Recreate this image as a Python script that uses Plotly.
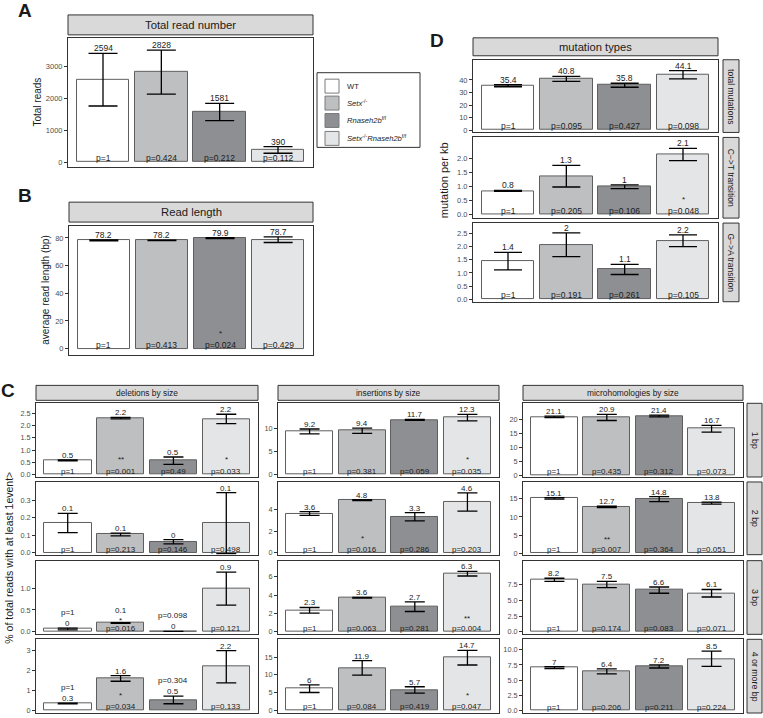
import plotly.graph_objects as go

W, H = 763, 718

# ---------------- data ----------------
groups = ["WT", "Setx-/-", "Rnaseh2b f/f", "Setx-/- Rnaseh2b f/f"]
legend_labels = ["WT", "<i>Setx</i><sup>-/-</sup>", "<i>Rnaseh2b</i><sup>f/f</sup>",
                 "<i>Setx</i><sup>-/-</sup><i>Rnaseh2b</i><sup>f/f</sup>"]
bar_colors = ["#FFFFFF", "#BEBFC1", "#8E8F92", "#E4E5E6"]

# A: total read number
total_reads = [2594, 2828, 1581, 390]
total_reads_err = [826, 690, 270, 105]
total_reads_lab = ["2594", "2828", "1581", "390"]
total_reads_p = ["p=1", "p=0.424", "p=0.212", "p=0.112"]

# B: read length
read_len = [78.2, 78.2, 79.9, 78.7]
read_len_err = [0.3, 0.2, 0.3, 2.0]
read_len_lab = ["78.2", "78.2", "79.9", "78.7"]
read_len_p = ["p=1", "p=0.413", "p=0.024", "p=0.429"]
read_len_sig = ["", "", "*", ""]

# D: mutation types
mut_total = [35.4, 40.8, 35.8, 44.1]
mut_total_err = [0.8, 2.0, 1.6, 3.3]
mut_total_lab = ["35.4", "40.8", "35.8", "44.1"]
mut_total_p = ["p=1", "p=0.095", "p=0.427", "p=0.098"]

mut_ct = [0.85, 1.38, 1.0, 2.16]
mut_ct_err = [0.02, 0.39, 0.07, 0.22]
mut_ct_lab = ["0.8", "1.3", "1", "2.1"]
mut_ct_p = ["p=1", "p=0.205", "p=0.106", "p=0.048"]
mut_ct_sig = ["", "", "", "*"]

mut_ga = [1.44, 2.06, 1.13, 2.21]
mut_ga_err = [0.33, 0.45, 0.19, 0.22]
mut_ga_lab = ["1.4", "2", "1.1", "2.2"]
mut_ga_p = ["p=1", "p=0.191", "p=0.261", "p=0.105"]

# C: deletions by size
del_1bp = [0.58, 2.30, 0.57, 2.27]
del_1bp_err = [0.02, 0.03, 0.15, 0.19]
del_1bp_lab = ["0.5", "2.2", "0.5", "2.2"]
del_1bp_p = ["p=1", "p=0.001", "p=0.49", "p=0.033"]
del_1bp_sig = ["", "**", "", "*"]

del_2bp = [0.171, 0.105, 0.063, 0.17]
del_2bp_err = [0.055, 0.008, 0.012, 0.175]
del_2bp_lab = ["0.1", "0.1", "0", "0.1"]
del_2bp_p = ["p=1", "p=0.213", "p=0.146", "p=0.498"]

del_3bp = [0.06, 0.2, 0.004, 0.99]
del_3bp_err = [0.02, 0.01, 0.0, 0.38]
del_3bp_lab = ["0", "0.1", "0", "0.9"]
del_3bp_p = ["p=1", "p=0.016", "p=0.098", "p=0.121"]
del_3bp_sig = ["", "*", "", ""]

del_4bp = [0.34, 1.6, 0.52, 2.19]
del_4bp_err = [0.02, 0.14, 0.19, 0.81]
del_4bp_lab = ["0.3", "1.6", "0.5", "2.2"]
del_4bp_p = ["p=1", "p=0.034", "p=0.304", "p=0.133"]
del_4bp_sig = ["", "*", "", ""]

# C: insertions by size
ins_1bp = [9.3, 9.45, 11.8, 12.3]
ins_1bp_err = [0.53, 0.55, 0.1, 0.7]
ins_1bp_lab = ["9.2", "9.4", "11.7", "12.3"]
ins_1bp_p = ["p=1", "p=0.381", "p=0.059", "p=0.035"]
ins_1bp_sig = ["", "", "", "*"]

ins_2bp = [3.63, 4.87, 3.33, 4.7]
ins_2bp_err = [0.17, 0.05, 0.38, 0.85]
ins_2bp_lab = ["3.6", "4.8", "3.3", "4.6"]
ins_2bp_p = ["p=1", "p=0.016", "p=0.286", "p=0.203"]
ins_2bp_sig = ["", "*", "", ""]

ins_3bp = [2.34, 3.72, 2.74, 6.35]
ins_3bp_err = [0.31, 0.03, 0.53, 0.25]
ins_3bp_lab = ["2.3", "3.6", "2.7", "6.3"]
ins_3bp_p = ["p=1", "p=0.063", "p=0.281", "p=0.004"]
ins_3bp_sig = ["", "", "", "**"]

ins_4bp = [6.1, 12.0, 5.76, 14.85]
ins_4bp_err = [1.07, 2.06, 0.9, 2.05]
ins_4bp_lab = ["6", "11.9", "5.7", "14.7"]
ins_4bp_p = ["p=1", "p=0.084", "p=0.419", "p=0.047"]
ins_4bp_sig = ["", "", "", "*"]

# C: microhomologies by size
mh_1bp = [21.1, 20.9, 21.4, 16.8]
mh_1bp_err = [0.3, 1.1, 0.3, 1.2]
mh_1bp_lab = ["21.1", "20.9", "21.4", "16.7"]
mh_1bp_p = ["p=1", "p=0.435", "p=0.312", "p=0.073"]

mh_2bp = [15.1, 12.8, 14.9, 13.8]
mh_2bp_err = [0.2, 0.2, 0.7, 0.25]
mh_2bp_lab = ["15.1", "12.7", "14.8", "13.8"]
mh_2bp_p = ["p=1", "p=0.007", "p=0.364", "p=0.051"]
mh_2bp_sig = ["", "**", "", ""]

mh_3bp = [8.3, 7.55, 6.65, 6.15]
mh_3bp_err = [0.25, 0.5, 0.5, 0.6]
mh_3bp_lab = ["8.2", "7.5", "6.6", "6.1"]
mh_3bp_p = ["p=1", "p=0.174", "p=0.083", "p=0.071"]

mh_4bp = [7.05, 6.45, 7.25, 8.5]
mh_4bp_err = [0.15, 0.4, 0.25, 1.25]
mh_4bp_lab = ["7", "6.4", "7.2", "8.5"]
mh_4bp_p = ["p=1", "p=0.206", "p=0.211", "p=0.224"]

# ---------------- style ----------------
FONT = "Liberation Sans, Arial, Helvetica, sans-serif"
FRAME = "#333333"
BAR_EDGE = "#5E5E5E"
STRIP_FILL = "#D9D9D9"
TICK_COL = "#4D4D4D"
TXT = "#1A1A1A"
xpos = list(range(len(groups)))

fig = go.Figure()
annotations = []
shapes = []


def fx(x):
    return x / W


def fy(y):
    return 1 - y / H


def rect(x0, y0, x1, y1, fill, line=FRAME, lw=1):
    shapes.append(dict(type="rect", xref="paper", yref="paper",
                       x0=fx(x0), x1=fx(x1), y0=fy(y1), y1=fy(y0),
                       fillcolor=fill, line=dict(color=line, width=lw), layer="above"))


def text(x, y, s, size, angle=0, color=TXT, bold=False, xanchor="center"):
    if bold:
        s = "<b>" + s + "</b>"
    annotations.append(dict(xref="paper", yref="paper", x=fx(x), y=fy(y), text=s,
                            showarrow=False, textangle=angle, xanchor=xanchor, yanchor="middle",
                            font=dict(family=FONT, size=size, color=color)))


def strip_top(x0, x1, y0, y1, label, size):
    rect(x0, y0, x1, y1, STRIP_FILL)
    text((x0 + x1) / 2, (y0 + y1) / 2, label, size)


def strip_right(x0, x1, y0, y1, label, size):
    rect(x0, y0, x1, y1, STRIP_FILL)
    text((x0 + x1) / 2, (y0 + y1) / 2, label, size, angle=90)


panel_no = [0]


def add_panel(box, yrange, tickvals, ticktext, vals, errs, labels, pvals,
              sigs=None, sig_y=None, p_stack=None, lab_dy=None, cap=14, tick_fs=7.5, lab_fs=8.5):
    panel_no[0] += 1
    n = panel_no[0]
    sid = "" if n == 1 else str(n)
    x0, y0, x1, y1 = box
    fig.add_trace(go.Bar(
        x=xpos, y=vals, width=0.9,
        marker=dict(color=bar_colors, line=dict(color=BAR_EDGE, width=1)),
        error_y=dict(type="data", array=errs, visible=True, color="black",
                     thickness=1.3, width=cap),
        xaxis="x" + sid, yaxis="y" + sid, showlegend=False, hoverinfo="skip"))
    fig.update_layout(**{
        "xaxis" + sid: dict(domain=[fx(x0), fx(x1)], range=[-0.6, 3.6], anchor="y" + sid,
                            showticklabels=False, ticks="", showgrid=False, zeroline=False,
                            showline=True, mirror=True, linecolor=FRAME, linewidth=1,
                            fixedrange=True),
        "yaxis" + sid: dict(domain=[fy(y1), fy(y0)], range=yrange, anchor="x" + sid,
                            tickmode="array", tickvals=tickvals, ticktext=ticktext,
                            ticks="outside", ticklen=3, tickwidth=1, tickcolor=FRAME,
                            tickfont=dict(family=FONT, size=tick_fs, color=TICK_COL),
                            showgrid=False, zeroline=False, showline=True, mirror=True,
                            linecolor=FRAME, linewidth=1, fixedrange=True),
    })
    xr, yr = "x" + sid, "y" + sid
    for i in range(len(vals)):
        top = vals[i] + errs[i]
        dy = lab_dy[i] if lab_dy else 0
        annotations.append(dict(xref=xr, yref=yr, x=xpos[i], y=top, text=labels[i],
                                showarrow=False, xanchor="center", yanchor="bottom",
                                yshift=-1 + dy, borderpad=0,
                                font=dict(family=FONT, size=lab_fs, color=TXT)))
        if p_stack and p_stack[i]:
            annotations.append(dict(xref=xr, yref=yr, x=xpos[i], y=top, text=pvals[i],
                                    showarrow=False, xanchor="center", yanchor="bottom",
                                    yshift=10, borderpad=0,
                                    font=dict(family=FONT, size=lab_fs, color=TXT)))
        else:
            annotations.append(dict(xref=xr, yref=yr, x=xpos[i], y=0, text=pvals[i],
                                    showarrow=False, xanchor="center", yanchor="bottom",
                                    yshift=-2, borderpad=0,
                                    font=dict(family=FONT, size=lab_fs, color=TXT)))
        if sigs and sigs[i]:
            annotations.append(dict(xref=xr, yref=yr, x=xpos[i], y=sig_y, text=sigs[i],
                                    showarrow=False, xanchor="center", yanchor="middle",
                                    yshift=-2, borderpad=0,
                                    font=dict(family=FONT, size=8, color=TXT)))


# ---------------- panel A ----------------
strip_top(68, 313, 15, 35, "Total read number", 11.3)
add_panel((68, 38, 313, 168), [-156, 3906], [0, 1000, 2000, 3000], ["0", "1000", "2000", "3000"],
          total_reads, total_reads_err, total_reads_lab, total_reads_p, cap=14.5)
text(38, 103, "Total reads", 10, angle=-90)
text(25, 11, "A", 19, bold=True)

# ---------------- panel B ----------------
strip_top(69, 313, 203, 223, "Read length", 11.3)
add_panel((69, 227, 313, 356), [-4.3, 88.6], [0, 20, 40, 60, 80], ["0", "20", "40", "60", "80"],
          read_len, read_len_err, read_len_lab, read_len_p,
          sigs=read_len_sig, sig_y=12.3, cap=14.5)
text(46, 291, "average read length (bp)", 10, angle=-90)
text(25, 196, "B", 19, bold=True)

# ---------------- legend ----------------
rect(317, 73, 420, 148, "white")
leg_y = [86.5, 103.5, 121, 139]
for i, lab in enumerate(legend_labels):
    rect(325, leg_y[i] - 7, 339, leg_y[i] + 7, bar_colors[i], line="#7A7A7A")
    text(345, leg_y[i], lab, 7.6, xanchor="left")

# ---------------- panel D ----------------
strip_top(473, 718, 38, 56, "mutation types", 11.2)
d_rows = [(60, 133), (138, 219), (224, 303)]
d_names = ["total mutations", "C\u2212>T transition", "G\u2212>A transition"]
add_panel((473, 60, 718, 133), [-1.8, 56.1], [0, 10, 20, 30, 40], ["0", "10", "20", "30", "40"],
          mut_total, mut_total_err, mut_total_lab, mut_total_p)
add_panel((473, 138, 718, 219), [-0.125, 2.77], [0, 0.5, 1, 1.5, 2],
          ["0.0", "0.5", "1.0", "1.5", "2.0"],
          mut_ct, mut_ct_err, mut_ct_lab, mut_ct_p, sigs=mut_ct_sig, sig_y=0.6)
add_panel((473, 224, 718, 303), [-0.086, 2.876], [0, 0.5, 1, 1.5, 2, 2.5],
          ["0.0", "0.5", "1.0", "1.5", "2.0", "2.5"],
          mut_ga, mut_ga_err, mut_ga_lab, mut_ga_p)
for (y0, y1), nm in zip(d_rows, d_names):
    strip_right(723, 739, y0, y1, nm, 8.5)
text(444, 181, "mutation per kb", 11, angle=-90)
text(437, 41, "D", 19, bold=True)

# ---------------- panel C ----------------
c_cols = [(36, 258), (278, 499), (523, 743)]
c_rows = [(405, 479), (484, 557), (563, 637), (642, 716)]
c_col_names = ["deletions by size", "insertions by size", "microhomologies by size"]
c_row_names = ["1 bp", "2 bp", "3 bp", "4 or more bp"]
for (x0, x1), nm in zip(c_cols, c_col_names):
    strip_top(x0, x1, 387, 402, nm, 8.4)
for (y0, y1), nm in zip(c_rows, c_row_names):
    strip_right(747, 762, y0, y1, nm, 8.8)

CK = dict(cap=10, tick_fs=7.3, lab_fs=8)
c1, c2, c3 = c_cols
r1, r2, r3, r4 = c_rows
# deletions
add_panel((c1[0], r1[0], c1[1], r1[1]), [-0.093, 2.906], [0, 0.5, 1, 1.5, 2, 2.5],
          ["0.0", "0.5", "1.0", "1.5", "2.0", "2.5"],
          del_1bp, del_1bp_err, del_1bp_lab, del_1bp_p, sigs=del_1bp_sig, sig_y=0.72, **CK)
add_panel((c1[0], r2[0], c1[1], r2[1]), [-0.011, 0.406], [0, 0.1, 0.2, 0.3],
          ["0.0", "0.1", "0.2", "0.3"],
          del_2bp, del_2bp_err, del_2bp_lab, del_2bp_p, **CK)
add_panel((c1[0], r3[0], c1[1], r3[1]), [-0.062, 1.635], [0, 0.5, 1.0],
          ["0.0", "0.5", "1.0"],
          del_3bp, del_3bp_err, del_3bp_lab, del_3bp_p, sigs=del_3bp_sig, sig_y=0.31,
          p_stack=[True, False, True, False], lab_dy=[0, 8, 0, 0], **CK)
add_panel((c1[0], r4[0], c1[1], r4[1]), [-0.135, 3.565], [0, 1, 2, 3],
          ["0", "1", "2", "3"],
          del_4bp, del_4bp_err, del_4bp_lab, del_4bp_p, sigs=del_4bp_sig, sig_y=0.83,
          p_stack=[True, False, True, False], **CK)
# insertions
add_panel((c2[0], r1[0], c2[1], r1[1]), [-0.5, 15.36], [0, 5, 10], ["0", "5", "10"],
          ins_1bp, ins_1bp_err, ins_1bp_lab, ins_1bp_p, sigs=ins_1bp_sig, sig_y=3.7, **CK)
add_panel((c2[0], r2[0], c2[1], r2[1]), [-0.18, 6.55], [0, 2, 4], ["0", "2", "4"],
          ins_2bp, ins_2bp_err, ins_2bp_lab, ins_2bp_p, sigs=ins_2bp_sig, sig_y=1.48, **CK)
add_panel((c2[0], r3[0], c2[1], r3[1]), [-0.29, 7.78], [0, 2, 4, 6], ["0", "2", "4", "6"],
          ins_3bp, ins_3bp_err, ins_3bp_lab, ins_3bp_p, sigs=ins_3bp_sig, sig_y=1.7, **CK)
add_panel((c2[0], r4[0], c2[1], r4[1]), [-0.76, 20.05], [0, 5, 10, 15], ["0", "5", "10", "15"],
          ins_4bp, ins_4bp_err, ins_4bp_lab, ins_4bp_p, sigs=ins_4bp_sig, sig_y=4.7, **CK)
# microhomologies
add_panel((c3[0], r1[0], c3[1], r1[1]), [-0.6, 26.0], [0, 5, 10, 15, 20],
          ["0", "5", "10", "15", "20"],
          mh_1bp, mh_1bp_err, mh_1bp_lab, mh_1bp_p, **CK)
add_panel((c3[0], r2[0], c3[1], r2[1]), [-0.35, 19.6], [0, 5, 10, 15], ["0", "5", "10", "15"],
          mh_2bp, mh_2bp_err, mh_2bp_lab, mh_2bp_p, sigs=mh_2bp_sig, sig_y=4.3, **CK)
add_panel((c3[0], r3[0], c3[1], r3[1]), [-0.43, 11.37], [0, 2.5, 5, 7.5],
          ["0.0", "2.5", "5.0", "7.5"],
          mh_3bp, mh_3bp_err, mh_3bp_lab, mh_3bp_p, **CK)
add_panel((c3[0], r4[0], c3[1], r4[1]), [-0.38, 11.7], [0, 2.5, 5, 7.5, 10],
          ["0.0", "2.5", "5.0", "7.5", "10.0"],
          mh_4bp, mh_4bp_err, mh_4bp_lab, mh_4bp_p, **CK)

text(9, 560, "% of total reads with at least 1event>", 10.5, angle=-90)
text(8, 392, "C", 19, bold=True)

fig.update_layout(
    width=W, height=H, margin=dict(l=0, r=0, t=0, b=0),
    paper_bgcolor="white", plot_bgcolor="white",
    font=dict(family=FONT, size=9, color=TXT),
    showlegend=False, bargap=0,
    annotations=annotations, shapes=shapes,
)

fig.write_html("out.html", config={"displayModeBar": False},
               post_script="document.body.style.margin='0';document.body.style.overflow='hidden';")
